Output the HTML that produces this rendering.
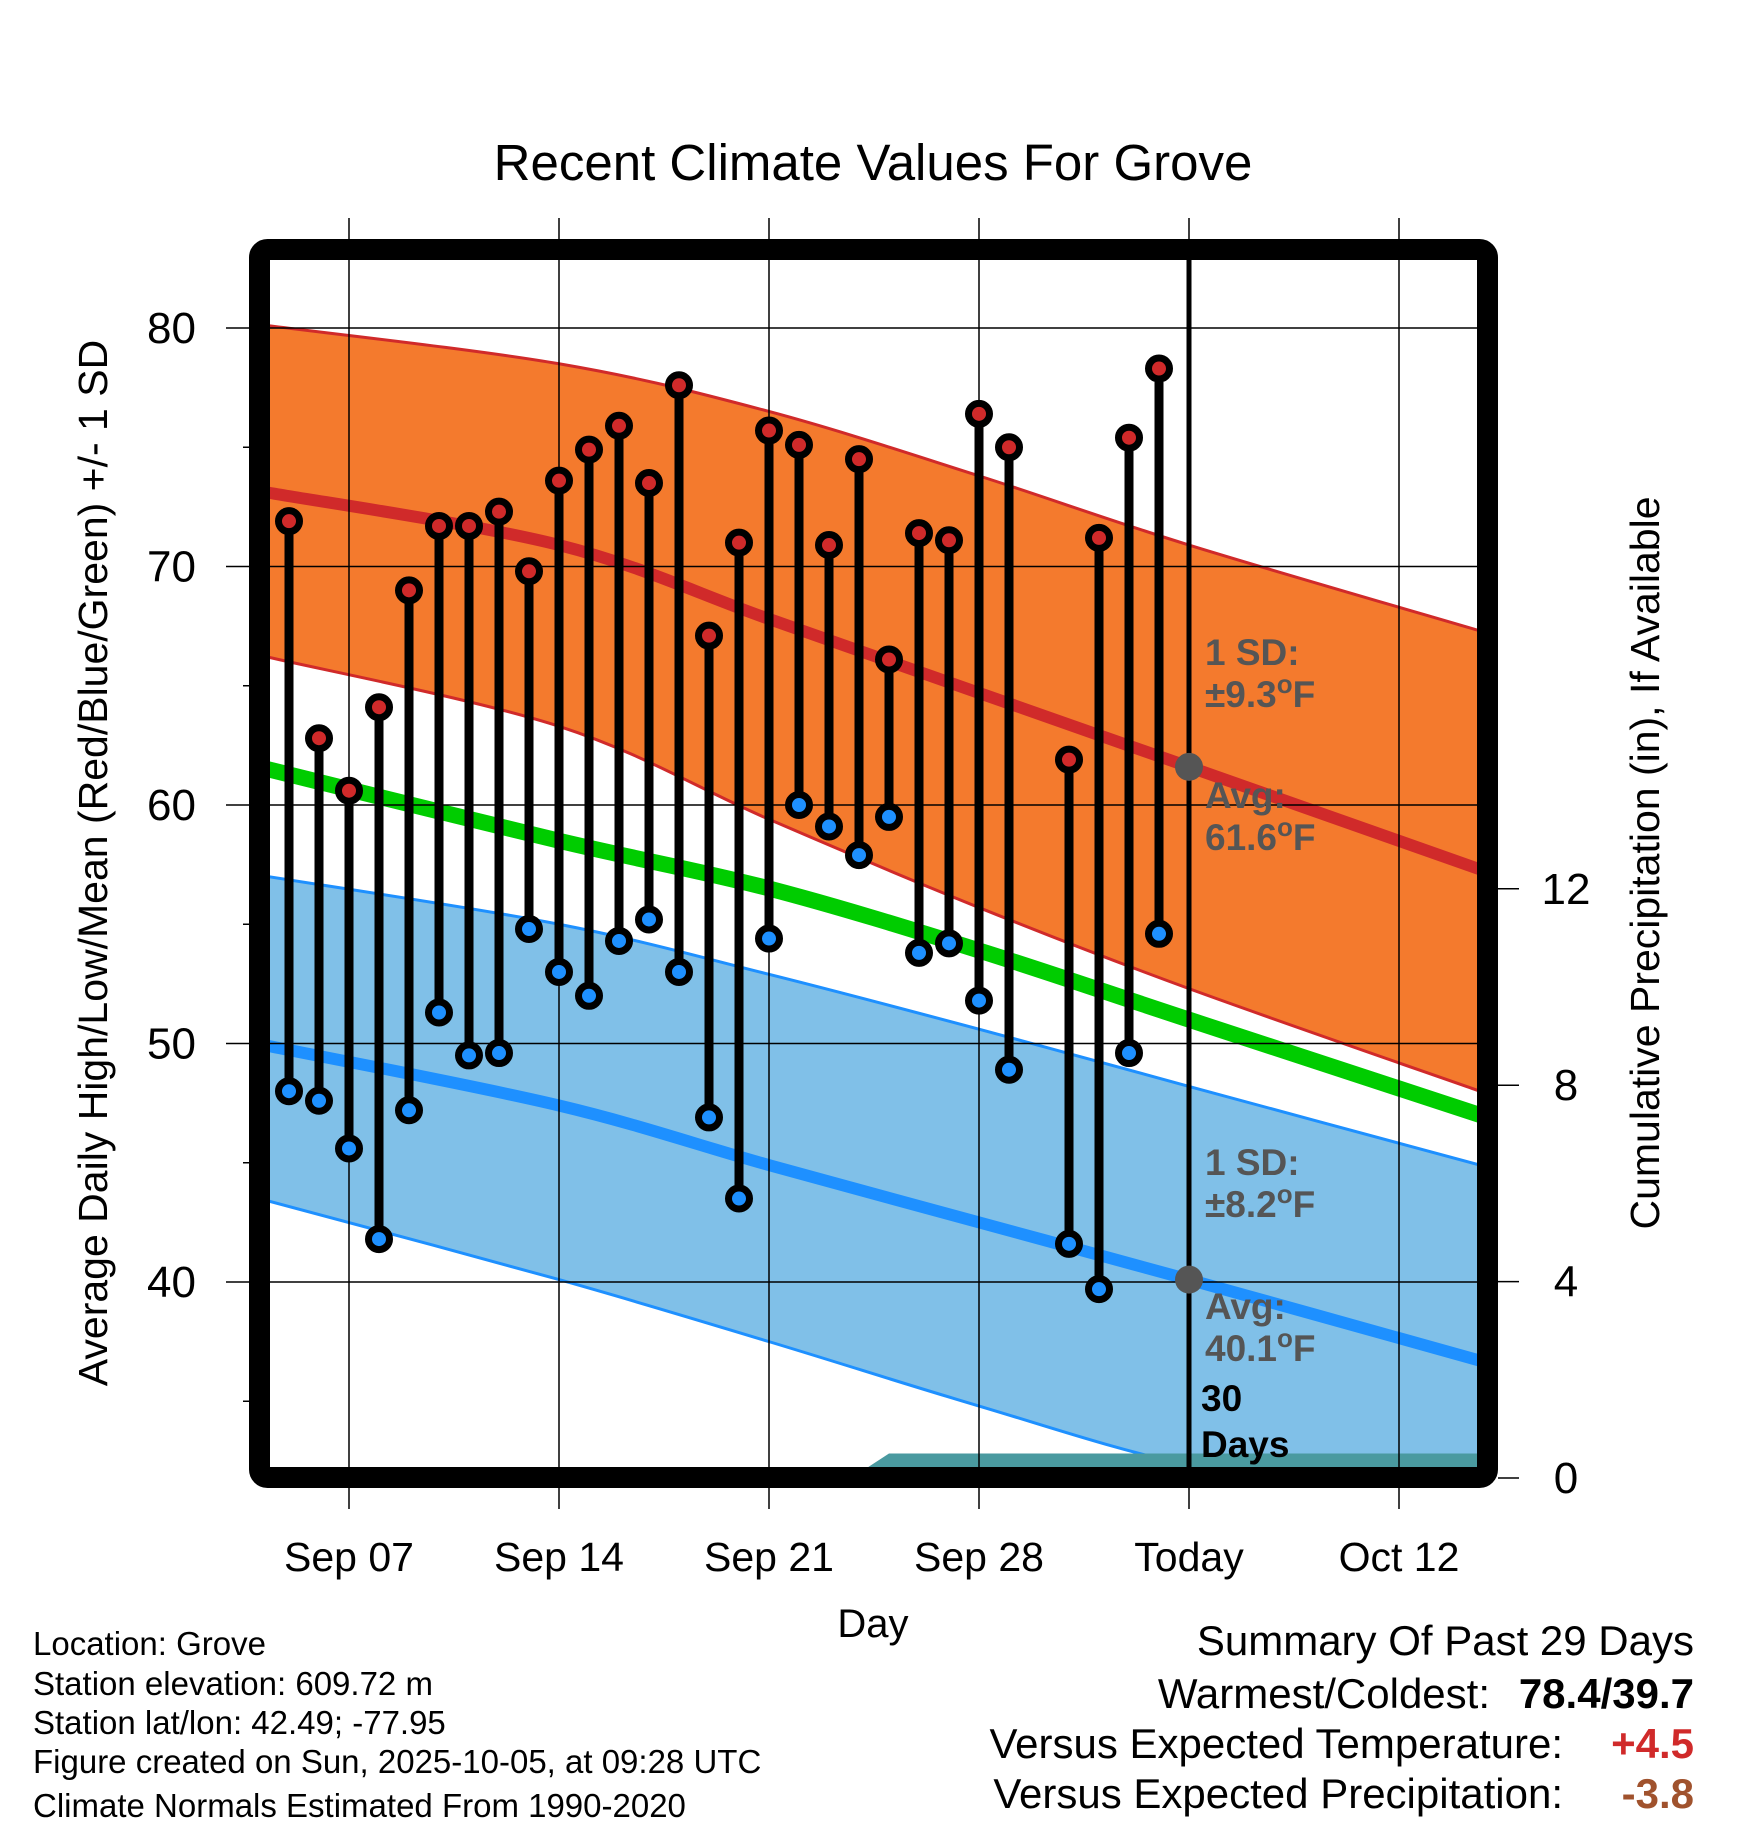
<!DOCTYPE html>
<html><head><meta charset="utf-8"><style>
body{margin:0;background:#fff}
svg{display:block;font-family:"Liberation Sans",Arial,sans-serif}
</style></head><body>
<svg id="chart" width="1748" height="1828" viewBox="0 0 1748 1828" xmlns="http://www.w3.org/2000/svg">
<text x="873" y="180" font-size="51" text-anchor="middle">Recent Climate Values For Grove</text>
<defs><clipPath id="plotclip"><rect x="270" y="260" width="1208" height="1208"/></clipPath></defs>
<g id="bands" clip-path="url(#plotclip)"></g>
<g id="grid"></g>
<g id="marks"></g>
<rect x="259.5" y="249.5" width="1228" height="1228" rx="8" fill="none" stroke="#000" stroke-width="21"/>
<g id="axes"></g>
<g font-weight="bold" font-size="37" fill="#555">
<text x="1205" y="665">1 SD:</text><text x="1205" y="707">±9.3<tspan font-size="26" dy="-14">o</tspan><tspan dy="14">F</tspan></text>
<text x="1205" y="808">Avg:</text><text x="1205" y="850">61.6<tspan font-size="26" dy="-14">o</tspan><tspan dy="14">F</tspan></text>
</g>
<g font-weight="bold" font-size="37" fill="#555">
<text x="1205" y="1175">1 SD:</text><text x="1205" y="1217">±8.2<tspan font-size="26" dy="-14">o</tspan><tspan dy="14">F</tspan></text>
<text x="1205" y="1319">Avg:</text><text x="1205" y="1361">40.1<tspan font-size="26" dy="-14">o</tspan><tspan dy="14">F</tspan></text>
</g>
<g font-weight="bold" font-size="37" fill="#000">
<text x="1201" y="1411">30</text><text x="1201" y="1457">Days</text>
</g>
<text x="873" y="1637" font-size="40" text-anchor="middle">Day</text>
<text transform="translate(107,863) rotate(-90)" font-size="41" text-anchor="middle">Average Daily High/Low/Mean (Red/Blue/Green) +/- 1 SD</text>
<text transform="translate(1659,863) rotate(-90)" font-size="41" text-anchor="middle">Cumulative Precipitation (in), If Available</text>
<g font-size="33">
<text x="33" y="1655">Location: Grove</text>
<text x="33" y="1695">Station elevation: 609.72 m</text>
<text x="33" y="1734">Station lat/lon: 42.49; -77.95</text>
<text x="33" y="1773">Figure created on Sun, 2025-10-05, at 09:28 UTC</text>
<text x="33" y="1817">Climate Normals Estimated From 1990-2020</text>
</g>
<g font-size="42" text-anchor="end">
<text x="1694" y="1655">Summary Of Past 29 Days</text>
<text x="1490" y="1708">Warmest/Coldest:</text>
<text x="1694" y="1708" font-weight="bold">78.4/39.7</text>
<text x="1563" y="1758">Versus Expected Temperature:</text>
<text x="1694" y="1758" font-weight="bold" fill="#d02a2a">+4.5</text>
<text x="1563" y="1808">Versus Expected Precipitation:</text>
<text x="1694" y="1808" font-weight="bold" fill="#a0522d">-3.8</text>
</g>
</svg>
<script>
// days are offsets from Sep 07
const obsDays = [-2,-1,0,1,2,3,4,5,6,7,8,9,10,11,12,13,14,15,16,17,18,19,20,21,22,24,25,26,27];
const highs = [71.9,62.8,60.6,64.1,69.0,71.7,71.7,72.3,69.8,73.6,74.9,75.9,73.5,77.6,67.1,71.0,75.7,75.1,70.9,74.5,66.1,71.4,71.1,76.4,75.0,61.9,71.2,75.4,78.3];
const lows = [48.0,47.6,45.6,41.8,47.2,51.3,49.5,49.6,54.8,53.0,52.0,54.3,55.2,53.0,46.9,43.5,54.4,60.0,59.1,57.9,59.5,53.8,54.2,51.8,48.9,41.6,39.7,49.6,54.6];
const normDays = [-2.7,7,14,21,28,37.7];
const highUpper = [80.1,78.5,76.5,73.8,70.9,67.3];
const highMean = [73.1,70.9,67.8,64.7,61.6,57.3];
const highLower = [66.2,63.3,59.4,55.7,52.3,48.0];
const meanNorm = [61.5,58.5,56.5,53.9,51.0,47.0];
const lowUpper = [57.0,55.0,52.9,50.6,48.2,44.9];
const lowMean = [49.9,47.4,44.9,42.5,40.1,36.7];
const lowLower = [43.4,40.1,37.5,34.8,32.3,30.0];
const precipDays = [-2.7,15.5,17,18,37.7];
const precipVals = [0,0,0.1,0.5,0.5];
const xTickDays = [0,7,14,21,28,35];
const xTickLabels = ["Sep 07","Sep 14","Sep 21","Sep 28","Today","Oct 12"];
const yTicks = [40,50,60,70,80];
const yMinor = [35,45,55,65,75];
const y2Ticks = [0,4,8,12];
const todayDay = 28;
const avgHighToday = 61.6, avgLowToday = 40.1;

const NS="http://www.w3.org/2000/svg";
const X = d => 349 + d*30;
const Y = v => 328 + (80-v)*23.85;
const Y2 = p => 1478 - p*49.1;
function mk(tag, attrs, parent){const e=document.createElementNS(NS,tag);for(const k in attrs)e.setAttribute(k,attrs[k]);parent.appendChild(e);return e;}
const bands=document.getElementById('bands'), grid=document.getElementById('grid'), marks=document.getElementById('marks'), axes=document.getElementById('axes');
function pts(ds,vs){return ds.map((d,i)=>[X(d),Y(vs[i])]);}
function smooth(p, move){
  let s=(move?'M':'L')+p[0][0]+','+p[0][1];
  for(let i=0;i<p.length-1;i++){
    const p0=p[i-1]||p[i], p1=p[i], p2=p[i+1], p3=p[i+2]||p[i+1];
    const c1=[p1[0]+(p2[0]-p0[0])/6, p1[1]+(p2[1]-p0[1])/6];
    const c2=[p2[0]-(p3[0]-p1[0])/6, p2[1]-(p3[1]-p1[1])/6];
    s+=' C'+c1[0]+','+c1[1]+' '+c2[0]+','+c2[1]+' '+p2[0]+','+p2[1];
  }
  return s;
}
function lineD(ds,vs){return smooth(pts(ds,vs),true);}
function areaD(ds,up,lo){return smooth(pts(ds,up),true)+' '+smooth(pts(ds,lo).reverse(),false)+' Z';}

let e;
e=mk('path',{d:areaD(normDays,highUpper,highLower),fill:'#f47a2d'},bands);

e=mk('path',{d:lineD(normDays,highUpper),fill:'none',stroke:'#d02a2a','stroke-width':3},bands);

e=mk('path',{d:lineD(normDays,highLower),fill:'none',stroke:'#d02a2a','stroke-width':3},bands);

e=mk('path',{d:areaD(normDays,lowUpper,lowLower),fill:'#80c0e8'},bands);

e=mk('path',{d:lineD(normDays,lowUpper),fill:'none',stroke:'#1e90ff','stroke-width':3},bands);

e=mk('path',{d:lineD(normDays,lowLower),fill:'none',stroke:'#1e90ff','stroke-width':3},bands);

e=mk('path',{d:lineD(normDays,highMean),fill:'none',stroke:'#d02a2a','stroke-width':12},bands);

e=mk('path',{d:lineD(normDays,meanNorm),fill:'none',stroke:'#00cc00','stroke-width':16},bands);

e=mk('path',{d:lineD(normDays,lowMean),fill:'none',stroke:'#1e90ff','stroke-width':12},bands);

const pp = precipDays.map((d,i)=>X(d)+','+Y2(precipVals[i])).join(' ')+' '+X(precipDays[precipDays.length-1])+',1478 '+X(precipDays[0])+',1478';
e=mk('polygon',{points:pp,fill:'#4a9aa0'},bands);


yTicks.forEach(v=>{
  e=mk('line',{x1:226,x2:1478,y1:Y(v),y2:Y(v),stroke:'#000','stroke-width':1.5},grid);
  
  e=mk('text',{x:196,y:Y(v)+15,'font-size':44,'text-anchor':'end'},axes);e.textContent=v;
  
});
yMinor.forEach(v=>{
  e=mk('line',{x1:243,x2:250,y1:Y(v),y2:Y(v),stroke:'#000','stroke-width':1.5},axes);
  
});
xTickDays.forEach((d,i)=>{
  e=mk('line',{x1:X(d),x2:X(d),y1:218,y2:1509,stroke:'#000','stroke-width':1.5},grid);
  
  e=mk('text',{x:X(d),y:1571,'font-size':41,'text-anchor':'middle'},axes);e.textContent=xTickLabels[i];
  
});
y2Ticks.forEach(p=>{
  e=mk('line',{x1:1498,x2:1519,y1:Y2(p),y2:Y2(p),stroke:'#000','stroke-width':1.5},axes);
  
  e=mk('text',{x:1566,y:Y2(p)+15,'font-size':44,'text-anchor':'middle'},axes);e.textContent=p;
  
});
e=mk('line',{x1:X(todayDay),x2:X(todayDay),y1:260,y2:1468,stroke:'#000','stroke-width':5},grid);


obsDays.forEach((d,i)=>{
  e=mk('line',{x1:X(d),x2:X(d),y1:Y(highs[i]),y2:Y(lows[i]),stroke:'#000','stroke-width':9},marks);
  
});
obsDays.forEach((d,i)=>{
  e=mk('circle',{cx:X(d),cy:Y(highs[i]),r:10.5,fill:'#d02a2a',stroke:'#000','stroke-width':7},marks);
  
  e=mk('circle',{cx:X(d),cy:Y(lows[i]),r:10.5,fill:'#1e90ff',stroke:'#000','stroke-width':7},marks);
  
});
e=mk('circle',{cx:X(todayDay),cy:Y(avgHighToday),r:14,fill:'#555'},marks);

e=mk('circle',{cx:X(todayDay),cy:Y(avgLowToday),r:14,fill:'#555'},marks);

</script>
</body></html>
